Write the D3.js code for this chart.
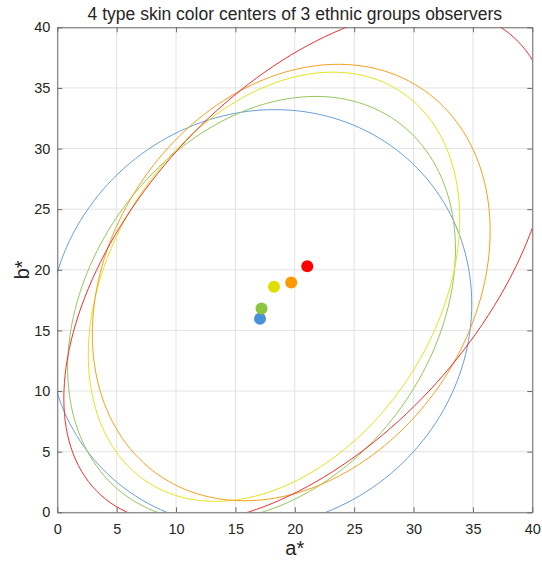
<!DOCTYPE html>
<html>
<head>
<meta charset="utf-8">
<script src="https://cdn.jsdelivr.net/npm/d3@7"></script>
<style>
  body { margin: 0; background: #fff; }
  text { font-family: "Liberation Sans", Arial, Helvetica, sans-serif; fill: #262626; }
</style>
</head>
<body>
<script>
// skin colour groups, one ellipse + centre dot each
var groups = ["blue", "green", "yellow", "orange", "red"];
var centerA = [17.07, 17.2, 18.25, 19.7, 21.05];
var centerB = [15.97, 16.8, 18.6, 18.95, 20.3];
// ellipse half extent along a*, along b*, and the a*-b* correlation
var halfA = [17.83, 16.33, 15.64, 16.75, 20.5];
var halfB = [17.24, 17.5, 17.7, 18.0, 21.2];
var corrAB = [0.07, 0.279, 0.317, 0.236, 0.514];
var dotColors = ["#4a90d9", "#8cc63f", "#dede00", "#ff9900", "#ff0000"];
var lineColors = ["#6a9fd8", "#95c75a", "#e3e320", "#f5a020", "#ee3030"];
var tickValues = [0, 5, 10, 15, 20, 25, 30, 35, 40];

var width = 542, height = 565;
// note: "top" is taken by window.top, so plot edges get their own names
var plotL = 57.3, plotR = 532.3, plotT = 27.3, plotB = 512.3;

var svg = d3.select("body").append("svg")
    .attr("width", width)
    .attr("height", height);

var x = d3.scaleLinear().domain([0, 40]).range([plotL, plotR]);
var y = d3.scaleLinear().domain([0, 40]).range([plotB, plotT]);

svg.append("defs").append("clipPath").attr("id", "plotclip")
  .append("rect")
    .attr("x", plotL).attr("y", plotT)
    .attr("width", plotR - plotL).attr("height", plotB - plotT);

// grid
var grid = svg.append("g");
grid.selectAll("line.gx").data(tickValues).enter().append("line")
    .attr("x1", function(d) { return x(d); })
    .attr("x2", function(d) { return x(d); })
    .attr("y1", plotT).attr("y2", plotB)
    .attr("stroke", "#e3e3e3").attr("stroke-width", 1);
grid.selectAll("line.gy").data(tickValues).enter().append("line")
    .attr("y1", function(d) { return y(d); })
    .attr("y2", function(d) { return y(d); })
    .attr("x1", plotL).attr("x2", plotR)
    .attr("stroke", "#e3e3e3").attr("stroke-width", 1);

// ellipses
var steps = d3.range(0, 361, 2);
function ellipsePts(i) {
    var s = Math.sqrt(1 - corrAB[i] * corrAB[i]);
    return steps.map(function(deg) {
        var t = deg * Math.PI / 180;
        return [centerA[i] + halfA[i] * Math.cos(t),
                centerB[i] + halfB[i] * (corrAB[i] * Math.cos(t) + s * Math.sin(t))];
    });
}
var line = d3.line()
    .x(function(d) { return x(d[0]); })
    .y(function(d) { return y(d[1]); });

svg.append("g").attr("clip-path", "url(#plotclip)")
  .selectAll("path").data(groups).enter().append("path")
    .attr("d", function(d, i) { return line(ellipsePts(i)); })
    .attr("fill", "none")
    .attr("stroke", function(d, i) { return lineColors[i]; })
    .attr("stroke-width", 1);

// centres
svg.append("g").selectAll("circle").data(groups).enter().append("circle")
    .attr("cx", function(d, i) { return x(centerA[i]); })
    .attr("cy", function(d, i) { return y(centerB[i]); })
    .attr("r", 6)
    .attr("fill", function(d, i) { return dotColors[i]; });

// axes box, ticks pointing in like matlab
var axisColor = "#6b6b6b";
var xAxis = svg.append("g").attr("transform", "translate(0," + plotB + ")")
    .call(d3.axisBottom(x).tickValues(tickValues).tickSizeInner(-5).tickSizeOuter(0).tickPadding(11));
var xTop = svg.append("g").attr("transform", "translate(0," + plotT + ")")
    .call(d3.axisTop(x).tickValues(tickValues).tickSizeInner(-5).tickSizeOuter(0).tickFormat(""));
var yAxis = svg.append("g").attr("transform", "translate(" + plotL + ",0)")
    .call(d3.axisLeft(y).tickValues(tickValues).tickSizeInner(-5).tickSizeOuter(0).tickPadding(7));
var yRight = svg.append("g").attr("transform", "translate(" + plotR + ",0)")
    .call(d3.axisRight(y).tickValues(tickValues).tickSizeInner(-5).tickSizeOuter(0).tickFormat(""));

[xAxis, xTop, yAxis, yRight].forEach(function(a) {
    a.select(".domain").attr("stroke", axisColor);
    a.selectAll(".tick line").attr("stroke", axisColor);
    a.selectAll(".tick text")
        .style("font-family", "'Liberation Sans', Arial, sans-serif")
        .style("font-size", "14.5px")
        .attr("fill", "#262626");
});

// labels
svg.append("text")
    .attr("x", (plotL + plotR) / 2).attr("y", 20)
    .attr("text-anchor", "middle")
    .style("font-size", "17.5px")
    .text("4 type skin color centers of 3 ethnic groups observers");

svg.append("text")
    .attr("x", (plotL + plotR) / 2).attr("y", 555)
    .attr("text-anchor", "middle")
    .style("font-size", "20px")
    .text("a*");

svg.append("text")
    .attr("transform", "translate(29," + ((plotT + plotB) / 2) + ") rotate(-90)")
    .attr("text-anchor", "middle")
    .style("font-size", "20px")
    .text("b*");
</script>
</body>
</html>
